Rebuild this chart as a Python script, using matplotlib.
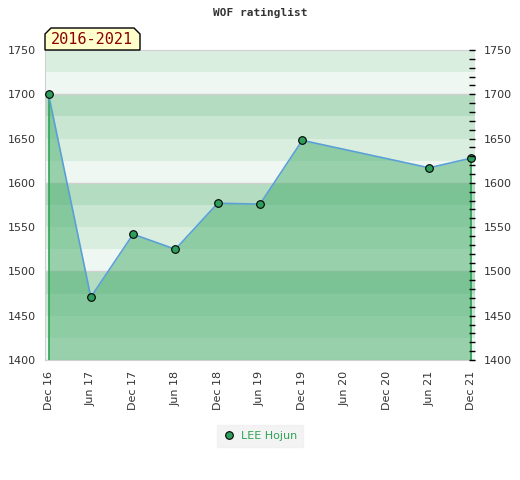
import numpy as np
import matplotlib
matplotlib.use('Agg')
import matplotlib.pyplot as plt
from matplotlib.patches import Polygon
from matplotlib.ticker import MultipleLocator

# months since Dec 2016 and rating values
months = [0, 6, 12, 18, 24, 30, 36, 54, 60]
ratings = [1700, 1471, 1542, 1525, 1577, 1576, 1648, 1617, 1628]
tick_months = [0, 6, 12, 18, 24, 30, 36, 42, 48, 54, 60]
tick_labels = ['Dec 16', 'Jun 17', 'Dec 17', 'Jun 18', 'Dec 18', 'Jun 19',
               'Dec 19', 'Jun 20', 'Dec 20', 'Jun 21', 'Dec 21']
player = 'LEE Hojun'
period = '2016-2021'

W, H = 520, 480
fig = plt.figure(figsize=(5.2, 4.8), dpi=100)
ax = fig.add_axes([45 / W, 1 - 360 / H, 430 / W, 310 / H])

#background bands, 4 shades per 100 points
shades = ['#eef7f1', '#daeee0', '#c8e6d2', '#b3dcc1']
for lo in range(1400, 1750, 25):
    k = ((lo - 1400) // 25) % 4
    ax.axhspan(lo, lo + 25, color=shades[k], lw=0, zorder=0)
for y in range(1400, 1751, 100):
    ax.axhline(y, color='#d0d0d0', lw=1, zorder=1)

#area under the rating line
ax.fill_between(months, ratings, 1400, color='#44ab69', alpha=0.5, lw=0, zorder=2)
ax.vlines([months[0], months[-1]], 1400, [ratings[0], ratings[-1]],
          color='#2ea356', lw=1.2, zorder=3)
ax.plot(months, ratings, color='#5aa0d6', lw=1.2, zorder=4)
ax.plot(months, ratings, 'o', ms=5.5, mfc='#2e9e5b', mec='black', mew=0.8, zorder=5)

ax.set_xlim(-0.5, 60.5)
ax.set_ylim(1400, 1750)
ax.set_xticks(tick_months)
ax.set_xticklabels(tick_labels, rotation=90, fontsize=8, color='#333333')
ax.set_yticks(range(1400, 1751, 50))
ax.tick_params(axis='x', length=0, pad=8)
ax.tick_params(axis='y', length=0, labelsize=8, labelcolor='#333333', pad=6.5)

#right axis: labels plus inner ticks every 10
ax2 = ax.twinx()
ax2.set_ylim(1400, 1750)
ax2.yaxis.set_major_locator(MultipleLocator(50))
ax2.yaxis.set_minor_locator(MultipleLocator(10))
ax2.tick_params(axis='y', which='both', direction='in', length=4, width=1,
                color='black', labelsize=8, labelcolor='#333333', pad=6)
for a in (ax, ax2):
    for s in a.spines.values():
        s.set_visible(False)
for s in ('left', 'top', 'bottom'):
    ax.spines[s].set_visible(True)
    ax.spines[s].set_color('#d0d0d0')

fig.text(0.5, 1 - 13 / H, 'WOF ratinglist', ha='center', va='center',
         family='DejaVu Sans Mono', fontsize=8, weight='bold', color='#333333')

#period label with chamfered top corners
px = [45, 45, 51, 134, 140, 140]
py = [50, 34, 28, 28, 34, 50]
poly = Polygon([(x / W, 1 - y / H) for x, y in zip(px, py)], closed=True,
               facecolor='#ffffcc', edgecolor='black', lw=1,
               transform=fig.transFigure, zorder=10)
fig.patches.append(poly)
fig.text(92 / W, 1 - 40 / H, period, ha='center', va='center',
         family='DejaVu Sans Mono', fontsize=11, color='#8b0000', zorder=11)

#legend
leg = ax.legend([plt.Line2D([], [], ls='', marker='o', ms=5.5, mfc='#2e9e5b',
                            mec='black', mew=0.8)], [player],
                loc='center', bbox_to_anchor=(260 / W, 1 - 436 / H),
                bbox_transform=fig.transFigure, frameon=True, fancybox=False,
                fontsize=8, handlelength=1, handletextpad=0.6, borderpad=0.5)
leg.get_frame().set_facecolor('#f0f0f0')
leg.get_frame().set_edgecolor('#f0f0f0')
for t in leg.get_texts():
    t.set_color('#2ea356')

fig.savefig('out.png', dpi=100)
